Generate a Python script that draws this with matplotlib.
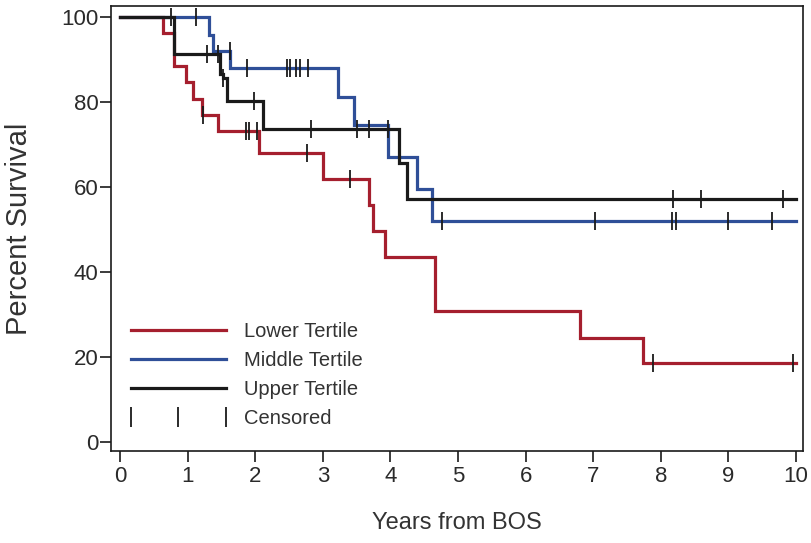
import matplotlib.pyplot as plt
import numpy as np
from matplotlib.lines import Line2D

plt.rcParams['font.family'] = ['Liberation Sans', 'DejaVu Sans']

# Kaplan-Meier steps (years, percent surviving)
lower_t = [0, 0.64, 0.80, 0.98, 1.08, 1.21, 1.45, 2.05, 3.01, 3.68, 3.74, 3.92, 4.66, 6.80, 7.73, 10.0]
lower_s = [100, 96.2, 88.5, 84.6, 80.8, 76.9, 73.1, 68.0, 62.0, 55.8, 49.6, 43.6, 30.9, 24.5, 18.5, 18.5]
lower_cens = [1.23, 1.86, 1.91, 2.02, 2.77, 3.40, 7.88, 9.96]

middle_t = [0, 1.32, 1.38, 1.63, 3.23, 3.46, 3.97, 4.39, 4.61, 10.0]
middle_s = [100, 95.8, 92.0, 87.9, 81.1, 74.6, 67.1, 59.5, 52.1, 52.1]
middle_cens = [1.12, 1.62, 1.88, 2.47, 2.52, 2.61, 2.66, 2.78, 4.77, 7.03, 8.16, 8.22, 9.0, 9.65]

upper_t = [0, 0.80, 1.48, 1.52, 1.58, 2.12, 4.13, 4.24, 10.0]
upper_s = [100, 91.3, 86.5, 85.7, 80.2, 73.7, 65.6, 57.3, 57.3]
upper_cens = [0.75, 1.29, 1.45, 1.52, 1.98, 2.83, 3.50, 3.68, 3.97, 8.18, 8.6, 9.8]

labels = ['Lower Tertile', 'Middle Tertile', 'Upper Tertile']
colors = ['#a51f2e', '#2f4f98', '#1a1a1a']


def surv_at(t, s, x):
    idx = np.searchsorted(t, x, side='right') - 1
    return np.array(s)[idx]


fig = plt.figure(figsize=(8.12, 5.43), dpi=100)
ax = fig.add_axes([0.1367, 0.1694, 0.852, 0.8196])

groups = [(lower_t, lower_s, lower_cens), (middle_t, middle_s, middle_cens),
          (upper_t, upper_s, upper_cens)]
for (t, s, c), col in zip(groups, colors):
    ax.step(t, s, where='post', color=col, lw=2.3, solid_joinstyle='miter')
for (t, s, c), col in zip(groups, colors):
    ax.plot(c, surv_at(t, s, c), linestyle='none', marker='|', ms=13,
            mew=1.3, color='#1a1a1a')

ax.set_xlim(-0.133, 10.1)
ax.set_ylim(-2.1, 102.6)
ax.set_xticks(range(0, 11))
ax.set_yticks(range(0, 101, 20))
ax.tick_params(direction='out', length=8, width=1.2, labelsize=16,
               colors='#1a1a1a', labelcolor='#2a2a2a')
ax.tick_params(axis='x', pad=3)
ax.tick_params(axis='y', pad=1)
for sp in ax.spines.values():
    sp.set_linewidth(1.2)
    sp.set_color('#1a1a1a')

ax.set_xlabel('Years from BOS', fontsize=17, color='#333333', labelpad=18)
ax.set_ylabel('Percent Survival', fontsize=21, color='#333333', labelpad=20)

handles = [Line2D([], [], color=col, lw=2.3) for col in colors]
handles.append(Line2D([], [], linestyle='none', marker='|', ms=14, mew=1.3,
                      color='#1a1a1a'))
leg = ax.legend(handles, labels + ['Censored'], loc='lower left',
                bbox_to_anchor=(-0.006, 0.01), frameon=False, fontsize=14.5,
                handlelength=5.3, handletextpad=0.6, labelspacing=0.5,
                numpoints=3, borderaxespad=0.5)
for txt in leg.get_texts():
    txt.set_color('#333333')

fig.savefig('out.png', dpi=100)
